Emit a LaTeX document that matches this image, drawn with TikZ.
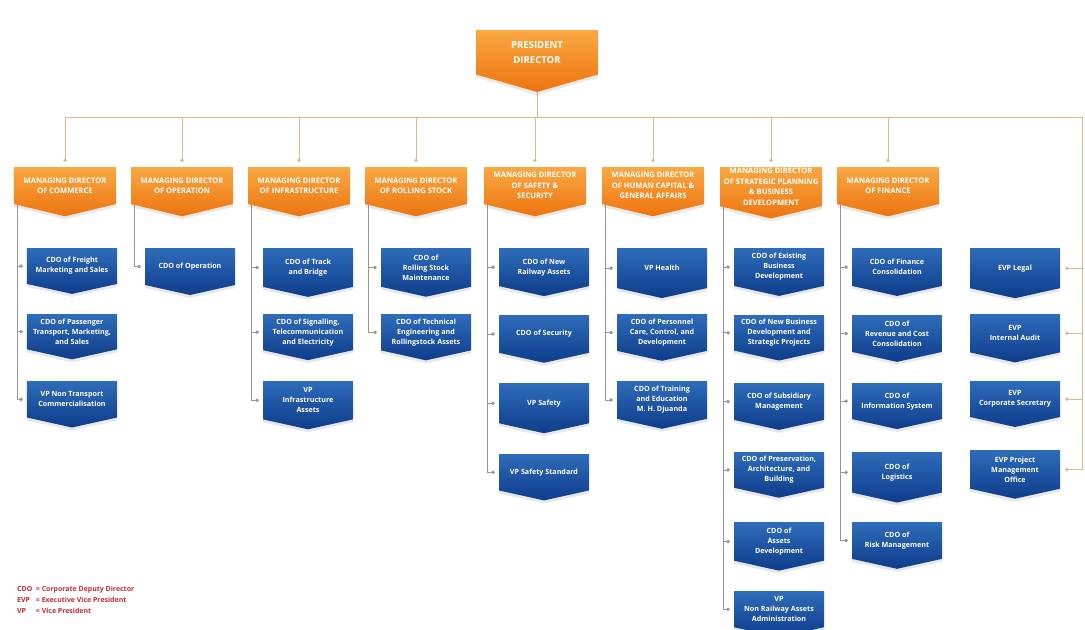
\documentclass[tikz,border=0pt]{standalone}
\usepackage{fontspec}
\setmainfont{Open Sans}
\usetikzlibrary{positioning,shapes.symbols,arrows.meta,shadows,backgrounds}

\definecolor{orgtop}{RGB}{249,168,66}
\definecolor{orgbot}{RGB}{237,116,16}
\definecolor{bluetop}{RGB}{46,108,186}
\definecolor{bluebot}{RGB}{14,60,138}
\definecolor{busline}{RGB}{224,184,136}
\definecolor{trunkline}{RGB}{150,150,150}
\definecolor{legendred}{RGB}{196,40,48}

\tikzset{
  presbox/.style={signal, signal to=south, signal pointer angle=148,
    top color=orgtop, bottom color=orgbot, text=white, align=center,
    font=\fontsize{9.6}{15}\selectfont\bfseries,
    minimum width=122bp, minimum height=52bp, inner sep=1bp,
    drop shadow={opacity=.18, shadow xshift=0bp, shadow yshift=-3bp}},
  mdbox/.style={signal, signal to=south, signal pointer angle=153,
    top color=orgtop, bottom color=orgbot, text=white, align=center,
    font=\fontsize{7.6}{10.5}\selectfont\bfseries,
    minimum width=102bp, minimum height=47bp, inner sep=1bp,
    drop shadow={opacity=.18, shadow xshift=0bp, shadow yshift=-3bp}},
  cdobox/.style={signal, signal to=south, signal pointer angle=155,
    top color=bluetop, bottom color=bluebot, text=white, align=center,
    font=\fontsize{7.2}{10}\selectfont\bfseries,
    minimum width=90bp, minimum height=44bp, inner sep=1bp,
    drop shadow={opacity=.18, shadow xshift=0bp, shadow yshift=-3bp}},
  mdlink/.style={draw=busline, line width=0.8bp, -{Circle[length=3.5bp]}, shorten >=5bp},
  cdolink/.style={draw=trunkline, line width=0.8bp, -{Circle[length=3.5bp]}, shorten >=4bp},
  evplink/.style={draw=busline, line width=0.8bp, -{Circle[length=3.5bp]}, shorten >=5bp},
  legend/.style={text=legendred, font=\fontsize{7}{10.8}\selectfont\bfseries, inner sep=0bp}
}

\begin{document}
\begin{tikzpicture}[x=1bp,y=-1bp]
  \useasboundingbox (0,0) rectangle (1085,630);
  \coordinate (bus) at (0,117);
  \coordinate (rbus) at (1082,117);
%%
  % Node: President
  \node[presbox, anchor=north] (P) at (537,30) {PRESIDENT\\DIRECTOR};
  % Node: Managing directors
  \node[mdbox, anchor=north] (M1) at (65,167) {MANAGING DIRECTOR\\OF COMMERCE};
  \node[mdbox, anchor=north] (M2) at (182,167) {MANAGING DIRECTOR\\OF OPERATION};
  \node[mdbox, anchor=north] (M3) at (299,167) {MANAGING DIRECTOR\\OF INFRASTRUCTURE};
  \node[mdbox, anchor=north] (M4) at (416,167) {MANAGING DIRECTOR\\OF ROLLING STOCK};
  \node[mdbox, anchor=north] (M5) at (535,167) {MANAGING DIRECTOR\\OF SAFETY \&\\SECURITY};
  \node[mdbox, anchor=north] (M6) at (653,167) {MANAGING DIRECTOR\\OF HUMAN CAPITAL \&\\GENERAL AFFAIRS};
  \node[mdbox, anchor=north] (M7) at (771,167) {MANAGING DIRECTOR\\OF STRATEGIC PLANNING\\\& BUSINESS\\DEVELOPMENT};
  \node[mdbox, anchor=north] (M8) at (888,167) {MANAGING DIRECTOR\\OF FINANCE};
  % Node: Commerce
  \node[cdobox, anchor=north] (C1a) at (72,248) {CDO of Freight\\Marketing and Sales};
  \node[cdobox, anchor=north] (C1b) at (72,314) {CDO of Passenger\\Transport, Marketing,\\and Sales};
  \node[cdobox, anchor=north] (C1c) at (72,381) {VP Non Transport\\Commercialisation};
  % Node: Operation
  \node[cdobox, anchor=north] (C2a) at (190,248) {CDO of Operation};
  % Node: Infrastructure
  \node[cdobox, anchor=north] (C3a) at (308,248) {CDO of Track\\and Bridge};
  \node[cdobox, anchor=north] (C3b) at (308,314) {CDO of Signalling,\\Telecommunication\\and Electricity};
  \node[cdobox, anchor=north] (C3c) at (308,381) {VP\\Infrastructure\\Assets};
  % Node: Rolling stock
  \node[cdobox, anchor=north] (C4a) at (426,248) {CDO of\\Rolling Stock\\Maintenance};
  \node[cdobox, anchor=north] (C4b) at (426,314) {CDO of Technical\\Engineering and\\Rollingstock Assets};
  % Node: Safety and security
  \node[cdobox, anchor=north] (C5a) at (544,248) {CDO of New\\Railway Assets};
  \node[cdobox, anchor=north] (C5b) at (544,315) {CDO of Security};
  \node[cdobox, anchor=north] (C5c) at (544,383) {VP Safety};
  \node[cdobox, anchor=north] (C5d) at (544,454) {VP Safety Standard};
  % Node: Human capital
  \node[cdobox, anchor=north] (C6a) at (662,248) {VP Health};
  \node[cdobox, anchor=north] (C6b) at (662,314) {CDO of Personnel\\Care, Control, and\\Development};
  \node[cdobox, anchor=north] (C6c) at (662,381) {CDO of Training\\and Education\\M. H. Djuanda};
  % Node: Strategic planning
  \node[cdobox, anchor=north] (C7a) at (779,248) {CDO of Existing\\Business\\Development};
  \node[cdobox, anchor=north] (C7b) at (779,315) {CDO of New Business\\Development and\\Strategic Projects};
  \node[cdobox, anchor=north] (C7c) at (779,383) {CDO of Subsidiary\\Management};
  \node[cdobox, anchor=north] (C7d) at (779,452) {CDO of Preservation,\\Architecture, and\\Building};
  \node[cdobox, anchor=north] (C7e) at (779,522) {CDO of\\Assets\\Development};
  \node[cdobox, anchor=north] (C7f) at (779,591) {VP\\Non Railway Assets\\Administration};
  % Node: Finance
  \node[cdobox, anchor=north] (C8a) at (897,248) {CDO of Finance\\Consolidation};
  \node[cdobox, anchor=north] (C8b) at (897,315) {CDO of\\Revenue and Cost\\Consolidation};
  \node[cdobox, anchor=north] (C8c) at (897,383) {CDO of\\Information System};
  \node[cdobox, anchor=north] (C8d) at (897,452) {CDO of\\Logistics};
  \node[cdobox, anchor=north] (C8e) at (897,522) {CDO of\\Risk Management};
  % Node: Executive vice presidents
  \node[cdobox, anchor=north] (E1) at (1015,248) {EVP Legal};
  \node[cdobox, anchor=north] (E2) at (1015,314) {EVP\\Internal Audit};
  \node[cdobox, anchor=north] (E3) at (1015,381) {EVP\\Corporate Secretary};
  \node[cdobox, anchor=north] (E4) at (1015,450) {EVP Project\\Management\\Office};
  % Node: Legend
  \node[legend, anchor=north west] (L) at (17,584) {%
    \begin{tabular}{@{}l@{\ \ }l@{}}
      CDO & = Corporate Deputy Director\\
      EVP & = Executive Vice President\\
      VP  & = Vice President
    \end{tabular}};
%%
\begin{scope}[on background layer]
  % Edge: P -> managing directors
  \foreach \m in {M1,M2,M3,M4,M5,M6,M7,M8}
    \draw[mdlink] (P.south) -- (P.south |- bus) -| (\m.north);
  % Edge: P -> executive vice presidents
  \foreach \e in {E1,E2,E3,E4}
    \draw[evplink] (P.south) -- (P.south |- bus) -- (rbus) |- (\e.east);
  % Edge: managing directors -> deputies
  \foreach \c in {C1a,C1b,C1c}
    \draw[cdolink] ([xshift=4bp]M1.west) |- (\c.west);
  \draw[cdolink] ([xshift=4bp]M2.west) |- (C2a.west);
  \foreach \c in {C3a,C3b,C3c}
    \draw[cdolink] ([xshift=4bp]M3.west) |- (\c.west);
  \foreach \c in {C4a,C4b}
    \draw[cdolink] ([xshift=4bp]M4.west) |- (\c.west);
  \foreach \c in {C5a,C5b,C5c,C5d}
    \draw[cdolink] ([xshift=4bp]M5.west) |- (\c.west);
  \foreach \c in {C6a,C6b,C6c}
    \draw[cdolink] ([xshift=4bp]M6.west) |- (\c.west);
  \foreach \c in {C7a,C7b,C7c,C7d,C7e,C7f}
    \draw[cdolink] ([xshift=4bp]M7.west) |- (\c.west);
  \foreach \c in {C8a,C8b,C8c,C8d,C8e}
    \draw[cdolink] ([xshift=4bp]M8.west) |- (\c.west);
\end{scope}
%
\end{tikzpicture}
\end{document}
